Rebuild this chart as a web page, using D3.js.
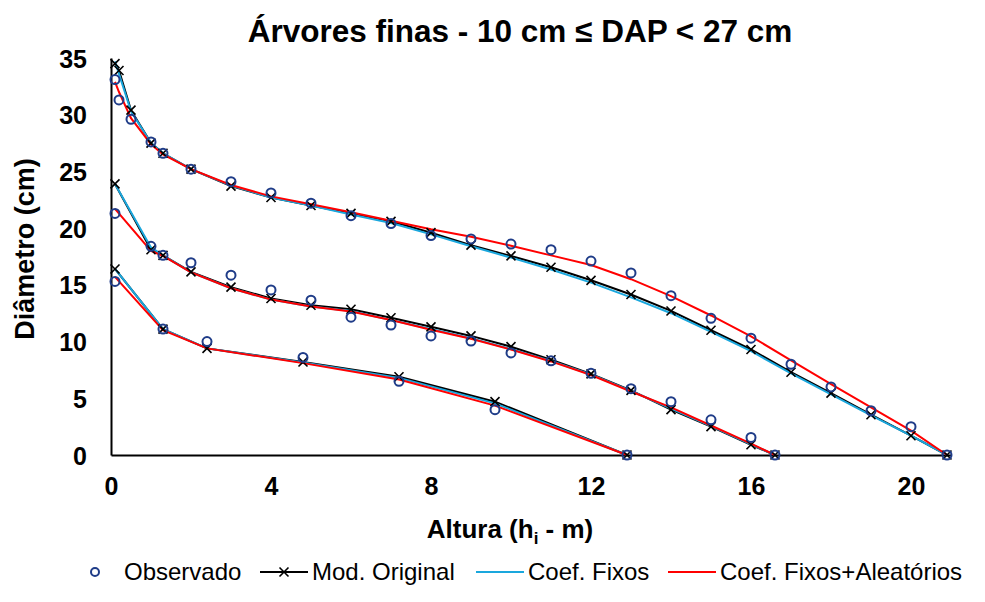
<!DOCTYPE html>
<html>
<head>
<meta charset="utf-8">
<script src="https://cdn.jsdelivr.net/npm/d3@7"></script>
<style>
    body { margin: 0; background: #fff; }
    text { font-family: Arial, "Liberation Sans", sans-serif; fill: #000; }
</style>
</head>
<body>
<script>
// alturas (m) das tres arvores
const h1 = [0.1, 0.2, 0.5, 1.0, 1.3, 2, 3, 4, 5, 6, 7, 8, 9, 10, 11, 12, 13, 14, 15, 16, 17, 18, 19, 20, 20.9];
const h2 = [0.1, 1.0, 1.3, 2, 3, 4, 5, 6, 7, 8, 9, 10, 11, 12, 13, 14, 15, 16, 16.6];
const h3 = [0.1, 1.3, 2.4, 4.8, 7.2, 9.6, 12.9];

// diametros (cm)
const obs1 = [33.1, 31.3, 29.6, 27.6, 26.6, 25.2, 24.1, 23.1, 22.2, 21.1, 20.4, 19.35, 19.05, 18.6, 18.1, 17.1, 16.05, 14.05, 12.05, 10.3, 8.0, 6.0, 3.9, 2.5, 0];
const mod1 = [34.5, 33.9, 30.4, 27.5, 26.6, 25.2, 23.7, 22.7, 22.0, 21.3, 20.6, 19.6, 18.5, 17.55, 16.55, 15.4, 14.15, 12.7, 11.0, 9.3, 7.3, 5.45, 3.55, 1.7, 0];
const fix1 = [34.7, 33.6, 30.3, 27.5, 26.6, 25.2, 23.75, 22.7, 22.0, 21.2, 20.45, 19.45, 18.4, 17.4, 16.35, 15.2, 13.9, 12.5, 10.85, 9.15, 7.2, 5.35, 3.5, 1.7, 0];
const rand1 = [32.9, 32.0, 29.7, 27.4, 26.5, 25.2, 23.8, 22.8, 22.1, 21.4, 20.65, 19.9, 19.25, 18.45, 17.6, 16.75, 15.5, 14.0, 12.3, 10.45, 8.35, 6.25, 4.2, 2.15, 0];

const obs2 = [21.3, 18.4, 17.6, 16.95, 15.85, 14.55, 13.65, 12.15, 11.45, 10.5, 10.05, 9.0, 8.3, 7.2, 5.85, 4.7, 3.1, 1.55, 0];
const mod2 = [23.9, 18.1, 17.6, 16.15, 14.8, 13.8, 13.2, 12.85, 12.1, 11.3, 10.5, 9.55, 8.4, 7.15, 5.7, 4.0, 2.5, 0.9, 0];
const fix2 = [23.9, 18.3, 17.6, 16.1, 14.7, 13.7, 13.1, 12.7, 11.9, 11.1, 10.3, 9.35, 8.3, 7.1, 5.65, 4.1, 2.55, 0.95, 0];
const rand2 = [21.7, 18.0, 17.55, 16.1, 14.7, 13.7, 13.1, 12.65, 11.9, 11.05, 10.25, 9.3, 8.25, 7.05, 5.6, 4.2, 2.6, 1.0, 0];

const obs3 = [15.3, 11.1, 10.0, 8.6, 6.5, 4.0, 0];
const mod3 = [16.4, 11.1, 9.4, 8.2, 6.9, 4.7, 0];
const fix3 = [16.4, 11.1, 9.4, 8.15, 6.8, 4.55, 0];
const rand3 = [15.7, 11.0, 9.4, 8.1, 6.65, 4.35, 0];

const xTicks = [0, 4, 8, 12, 16, 20];
const yTicks = [0, 5, 10, 15, 20, 25, 30, 35];
const seriesNames = ["Observado", "Mod. Original", "Coef. Fixos", "Coef. Fixos+Aleatórios"];

const width = 985;
const height = 602;
const margin = { left: 111, right: 34, top: 58, bottom: 147 };

const navy = "#1f3c88";
const blue = "#1aa7dd";
const red = "#ff0000";

const svg = d3.select("body").append("svg")
    .attr("width", width)
    .attr("height", height);

const x = d3.scaleLinear().domain([0, 21]).range([margin.left, width - margin.right]);
const y = d3.scaleLinear().domain([0, 35]).range([height - margin.bottom, margin.top]);

const heights = [h1, h2, h3];
const zip = (hs, ds) => hs.map((h, i) => [h, ds[i]]);

const observed = heights.map((hs, i) => zip(hs, [obs1, obs2, obs3][i]));
const original = heights.map((hs, i) => zip(hs, [mod1, mod2, mod3][i]));
const fixed = heights.map((hs, i) => zip(hs, [fix1, fix2, fix3][i]));
const mixed = heights.map((hs, i) => zip(hs, [rand1, rand2, rand3][i]));

// eixos
const xAxis = svg.append("g")
    .attr("transform", `translate(0, ${y(0)})`)
    .call(d3.axisBottom(x).tickValues(xTicks).tickSize(0).tickPadding(22));
const yAxis = svg.append("g")
    .attr("transform", `translate(${x(0)}, 0)`)
    .call(d3.axisLeft(y).tickValues(yTicks).tickSize(0).tickPadding(24));

[xAxis, yAxis].forEach(g => {
    g.select(".domain").attr("stroke", "#000").attr("stroke-width", 2);
    g.selectAll("text")
        .style("font-size", "25px")
        .style("font-weight", "bold")
        .attr("fill", "#000");
});
yAxis.selectAll("text").attr("dy", "0.36em");

const line = d3.line()
    .x(d => x(d[0]))
    .y(d => y(d[1]));

const plot = svg.append("g");

// Mod. Original
original.forEach(s => {
    plot.append("path")
        .attr("d", line(s))
        .attr("fill", "none")
        .attr("stroke", "#000")
        .attr("stroke-width", 2);
});

// Coef. Fixos
fixed.forEach(s => {
    plot.append("path")
        .attr("d", line(s))
        .attr("fill", "none")
        .attr("stroke", blue)
        .attr("stroke-width", 2);
});

// Coef. Fixos + Aleatorios
mixed.forEach(s => {
    plot.append("path")
        .attr("d", line(s))
        .attr("fill", "none")
        .attr("stroke", red)
        .attr("stroke-width", 2);
});

function cross(g, cx, cy, r) {
    g.append("path")
        .attr("d", `M${cx - r},${cy - r}L${cx + r},${cy + r}M${cx - r},${cy + r}L${cx + r},${cy - r}`)
        .attr("stroke", "#000")
        .attr("stroke-width", 1.6)
        .attr("fill", "none");
}

original.flat().forEach(d => cross(plot, x(d[0]), y(d[1]), 4.5));

plot.selectAll(".obs")
    .data(observed.flat())
    .enter()
    .append("circle")
    .attr("class", "obs")
    .attr("cx", d => x(d[0]))
    .attr("cy", d => y(d[1]))
    .attr("r", 4.5)
    .attr("fill", "none")
    .attr("stroke", navy)
    .attr("stroke-width", 2);

// titulos
svg.append("text")
    .attr("x", 520)
    .attr("y", 42)
    .attr("text-anchor", "middle")
    .style("font-size", "31.5px")
    .style("font-weight", "bold")
    .text("Árvores finas - 10 cm ≤ DAP < 27 cm");

svg.append("text")
    .attr("transform", `translate(34, 249) rotate(-90)`)
    .attr("text-anchor", "middle")
    .style("font-size", "27px")
    .style("font-weight", "bold")
    .text("Diâmetro (cm)");

const xTitle = svg.append("text")
    .attr("x", 510)
    .attr("y", 538)
    .attr("text-anchor", "middle")
    .style("font-size", "26px")
    .style("font-weight", "bold");
xTitle.append("tspan").text("Altura (h");
xTitle.append("tspan").attr("dy", 6).style("font-size", "17px").text("i");
xTitle.append("tspan").attr("dy", -6).text(" - m)");

// legenda
const legY = 572;
const legend = svg.append("g").style("font-size", "24px");

legend.append("circle")
    .attr("cx", 95).attr("cy", legY).attr("r", 4)
    .attr("fill", "none").attr("stroke", navy).attr("stroke-width", 2);
legend.append("text").attr("x", 124).attr("y", legY + 8).text(seriesNames[0]);

legend.append("line")
    .attr("x1", 260).attr("x2", 308).attr("y1", legY).attr("y2", legY)
    .attr("stroke", "#000").attr("stroke-width", 2);
cross(legend, 284, legY, 4.5);
legend.append("text").attr("x", 312).attr("y", legY + 8).text(seriesNames[1]);

legend.append("line")
    .attr("x1", 476).attr("x2", 524).attr("y1", legY).attr("y2", legY)
    .attr("stroke", blue).attr("stroke-width", 2);
legend.append("text").attr("x", 528).attr("y", legY + 8).text(seriesNames[2]);

legend.append("line")
    .attr("x1", 668).attr("x2", 716).attr("y1", legY).attr("y2", legY)
    .attr("stroke", red).attr("stroke-width", 2);
legend.append("text").attr("x", 720).attr("y", legY + 8).text(seriesNames[3]);
</script>
</body>
</html>
